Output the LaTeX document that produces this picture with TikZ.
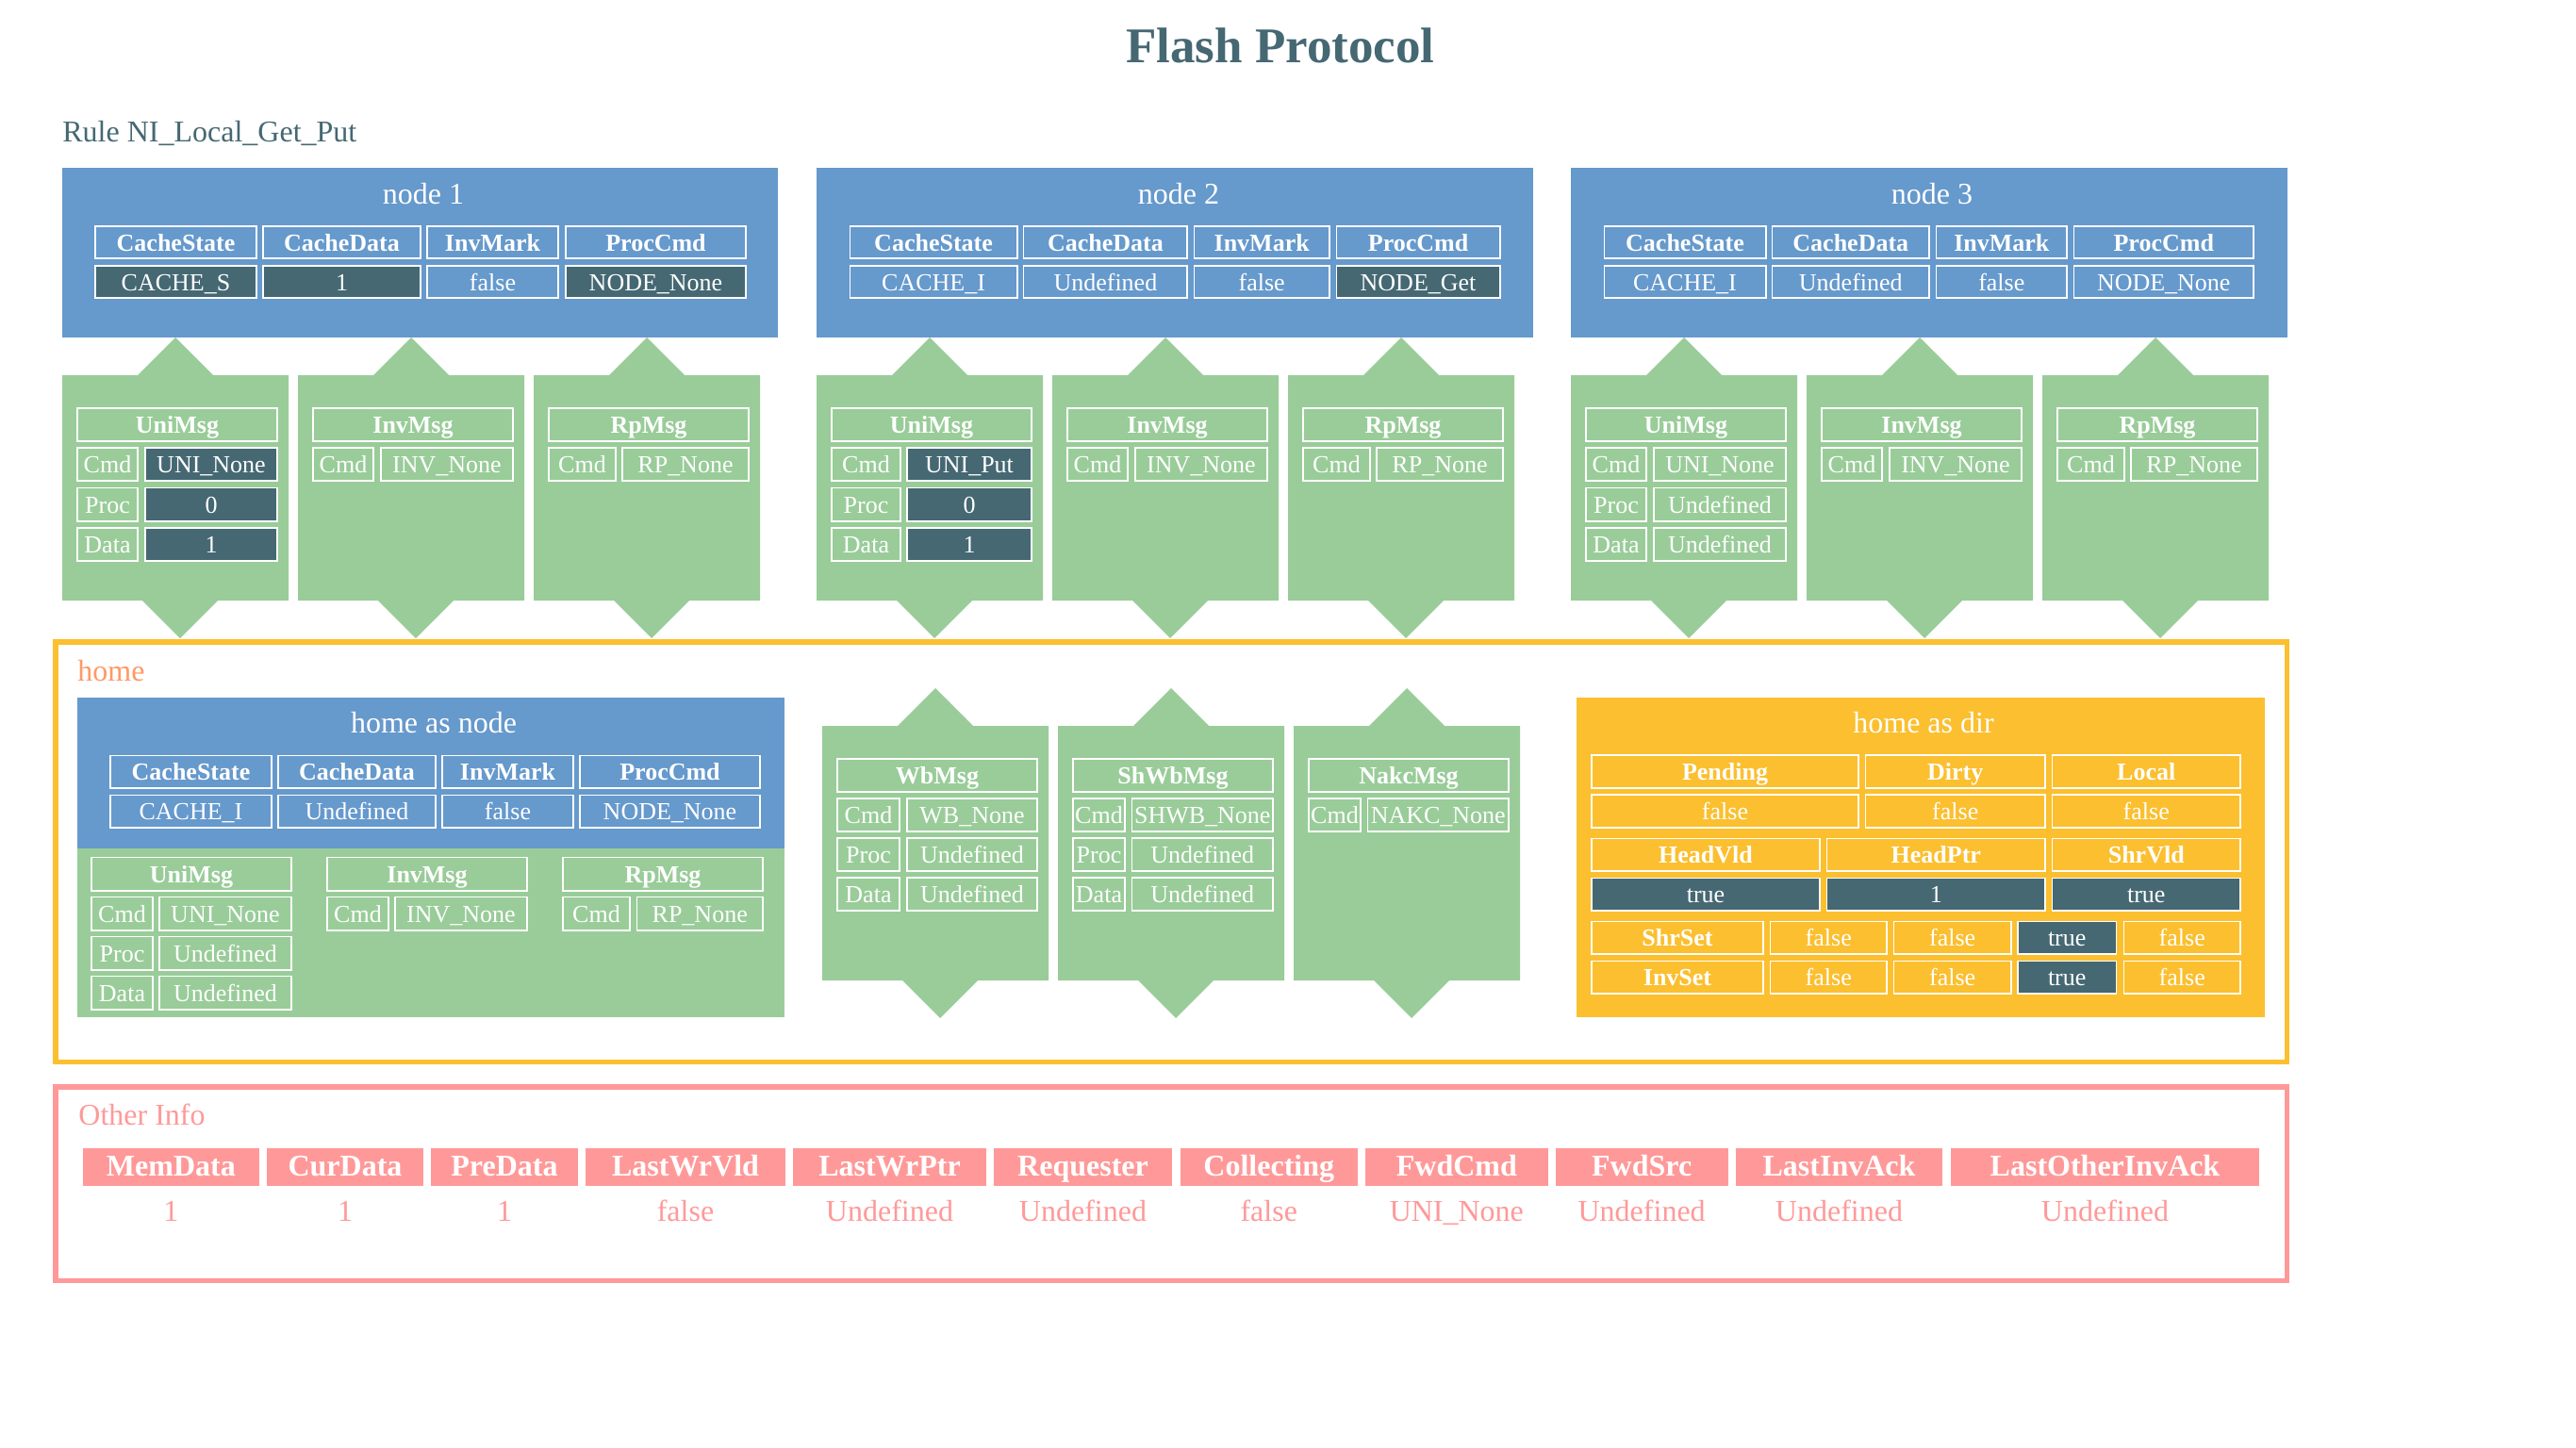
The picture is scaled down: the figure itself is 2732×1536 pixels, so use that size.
\documentclass[tikz,border=0pt]{standalone}
\usepackage{fontspec}
\setmainfont{Liberation Serif}
\definecolor{blu}{HTML}{6699CC}
\definecolor{grn}{HTML}{99CC99}
\definecolor{dk}{HTML}{456873}
\definecolor{ylw}{HTML}{FBBF2F}
\definecolor{pnk}{HTML}{FF9999}
\definecolor{org}{HTML}{FF9966}
\newcounter{cn}
\newcommand\ft{\fontsize{13}{15}\selectfont}
\newcommand\fb{\fontsize{13}{15}\selectfont\bfseries}
\newcommand\Ft{\fontsize{16}{19}\selectfont}
\newcommand\Fb{\fontsize{16}{19}\selectfont\bfseries}
\newcommand\cell[6]{\stepcounter{cn}%
 \draw[cellline,fill=#5] ({(#1)+0.8},{(#2)+0.8}) rectangle ({(#3)-0.8},{(#4)-0.8});%
 \node[celltxt] (c\thecn) at ({((#1)+(#3))/2},{(#2)+0.75*((#4)-(#2))}) {#6};}
\newcommand\mtitle[3]{\cell{#1+15}{#2}{#1+229}{#2+37}{grn}{\fb #3}}
\newcommand\mrow[7]{\cell{#1+15}{#2}{#1+#3}{#2+37}{grn}{\ft #5}%
 \cell{#1+#4}{#2}{#1+229}{#2+37}{#7}{\ft #6}}
\newcommand\msg[3]{\fill[grn] (#1,#2) -- ({#1+80},#2) -- ({#1+120},{#2-40}) -- ({#1+160},#2) -- ({#1+240},#2) -- ({#1+240},#3) -- ({#1+165},#3) -- ({#1+125},{#3+40}) -- ({#1+85},#3) -- (#1,#3) -- cycle;}
\newcommand\oi[4]{\stepcounter{cn}%
 \fill[pnk] (#1,1218) rectangle (#2,1258);%
 \node[celltxt,font=\Fb] (h\thecn) at ({((#1)+(#2))/2},1247) {#3};%
 \node[celltxt,font=\Ft,text=pnk] (v\thecn) at ({((#1)+(#2))/2},1295) {#4};}
\tikzset{
 cellline/.style={draw=white, line width=0.8pt},
 celltxt/.style={anchor=base, inner sep=0pt, text=white},
 lbl/.style={anchor=base, inner sep=0pt, text=white, font=\Ft},
}
\begin{document}
\begin{tikzpicture}[x=0.5pt,y=-0.5pt]
\useasboundingbox (0,0) rectangle (2732,1536);
\fill[white] (0,0) rectangle (2732,1536);
% title
\node[anchor=base, inner sep=0pt, text=dk, font=\fontsize{26.5}{30}\selectfont\bfseries] (title) at (1358,67) {Flash Protocol};
\node[anchor=base west, inner sep=0pt, text=dk, font=\Ft] (rule) at (66,150) {Rule NI\_Local\_Get\_Put};
% ---------- node 1
\fill[blu] (66,178) rectangle (825,358);
\node[lbl] (n1) at (449,216) {node 1};
\cell{100}{239}{273}{275}{blu}{\fb CacheState}
\cell{278}{239}{447}{275}{blu}{\fb CacheData}
\cell{452}{239}{593}{275}{blu}{\fb InvMark}
\cell{599}{239}{792}{275}{blu}{\fb ProcCmd}
\cell{100}{281}{273}{317}{dk}{\ft CACHE\_S}
\cell{278}{281}{447}{317}{dk}{\ft 1}
\cell{452}{281}{593}{317}{blu}{\ft false}
\cell{599}{281}{792}{317}{dk}{\ft NODE\_None}
% ---------- node 2
\fill[blu] (866,178) rectangle (1626,358);
\node[lbl] (n2) at (1250,216) {node 2};
\cell{900.5}{239}{1079.6}{275}{blu}{\fb CacheState}
\cell{1084.8}{239}{1260}{275}{blu}{\fb CacheData}
\cell{1265.6}{239}{1410.8}{275}{blu}{\fb InvMark}
\cell{1416.5}{239}{1591.6}{275}{blu}{\fb ProcCmd}
\cell{900.5}{281}{1079.6}{317}{blu}{\ft CACHE\_I}
\cell{1084.8}{281}{1260}{317}{blu}{\ft Undefined}
\cell{1265.6}{281}{1410.8}{317}{blu}{\ft false}
\cell{1416.5}{281}{1591.6}{317}{dk}{\ft NODE\_Get}
% ---------- node 3
\fill[blu] (1666,178) rectangle (2426,358);
\node[lbl] (n3) at (2049,216) {node 3};
\cell{1700.5}{239}{1873.5}{275}{blu}{\fb CacheState}
\cell{1878.6}{239}{2047}{275}{blu}{\fb CacheData}
\cell{2052.6}{239}{2193}{275}{blu}{\fb InvMark}
\cell{2198.5}{239}{2391}{275}{blu}{\fb ProcCmd}
\cell{1700.5}{281}{1873.5}{317}{blu}{\ft CACHE\_I}
\cell{1878.6}{281}{2047}{317}{blu}{\ft Undefined}
\cell{2052.6}{281}{2193}{317}{blu}{\ft false}
\cell{2198.5}{281}{2391}{317}{blu}{\ft NODE\_None}
% ---------- message boxes of nodes
\msg{66}{398}{637}\msg{316}{398}{637}\msg{566}{398}{637}
\msg{866}{398}{637}\msg{1116}{398}{637}\msg{1366}{398}{637}
\msg{1666}{398}{637}\msg{1916}{398}{637}\msg{2166}{398}{637}
% node 1 messages
\mtitle{66}{432}{UniMsg}
\mrow{66}{474}{81}{87}{Cmd}{UNI\_None}{dk}
\mrow{66}{516.5}{81}{87}{Proc}{0}{dk}
\mrow{66}{559}{81}{87}{Data}{1}{dk}
\mtitle{316}{432}{InvMsg}
\mrow{316}{474}{81}{87}{Cmd}{INV\_None}{grn}
\mtitle{566}{432}{RpMsg}
\mrow{566}{474}{88}{93}{Cmd}{RP\_None}{grn}
% node 2 messages
\mtitle{866}{432}{UniMsg}
\mrow{866}{474}{90}{95}{Cmd}{UNI\_Put}{dk}
\mrow{866}{516.5}{90}{95}{Proc}{0}{dk}
\mrow{866}{559}{90}{95}{Data}{1}{dk}
\mtitle{1116}{432}{InvMsg}
\mrow{1116}{474}{81}{87}{Cmd}{INV\_None}{grn}
\mtitle{1366}{432}{RpMsg}
\mrow{1366}{474}{88}{93}{Cmd}{RP\_None}{grn}
% node 3 messages
\mtitle{1666}{432}{UniMsg}
\mrow{1666}{474}{81}{87}{Cmd}{UNI\_None}{grn}
\mrow{1666}{516.5}{81}{87}{Proc}{Undefined}{grn}
\mrow{1666}{559}{81}{87}{Data}{Undefined}{grn}
\mtitle{1916}{432}{InvMsg}
\mrow{1916}{474}{81}{87}{Cmd}{INV\_None}{grn}
\mtitle{2166}{432}{RpMsg}
\mrow{2166}{474}{88}{93}{Cmd}{RP\_None}{grn}
% ---------- home
\draw[ylw, line width=2.75pt] (58.75,681) rectangle (2425.25,1126.25);
\node[anchor=base west, inner sep=0pt, text=org, font=\Ft] (home) at (82,722) {home};
% home as node
\fill[blu] (82,740) rectangle (831.6,900);
\fill[grn] (82,900) rectangle (831.6,1079);
\node[lbl] (han) at (460,777) {home as node};
\cell{116}{800.7}{289}{837}{blu}{\fb CacheState}
\cell{294}{800.7}{463}{837}{blu}{\fb CacheData}
\cell{468}{800.7}{609}{837}{blu}{\fb InvMark}
\cell{614}{800.7}{807}{837}{blu}{\fb ProcCmd}
\cell{116}{842.7}{289}{879}{blu}{\ft CACHE\_I}
\cell{294}{842.7}{463}{879}{blu}{\ft Undefined}
\cell{468}{842.7}{609}{879}{blu}{\ft false}
\cell{614}{842.7}{807}{879}{blu}{\ft NODE\_None}
\mtitle{81}{908.7}{UniMsg}
\mrow{81}{950.7}{82}{87}{Cmd}{UNI\_None}{grn}
\mrow{81}{992.7}{82}{87}{Proc}{Undefined}{grn}
\mrow{81}{1034.7}{82}{87}{Data}{Undefined}{grn}
\mtitle{331}{908.7}{InvMsg}
\mrow{331}{950.7}{82}{87}{Cmd}{INV\_None}{grn}
\mtitle{581}{908.7}{RpMsg}
\mrow{581}{950.7}{88}{93.5}{Cmd}{RP\_None}{grn}
% home channels
\msg{872}{770}{1040}\msg{1122}{770}{1040}\msg{1372}{770}{1040}
\mtitle{872}{804}{WbMsg}
\mrow{872}{846}{83}{89}{Cmd}{WB\_None}{grn}
\mrow{872}{888}{83}{89}{Proc}{Undefined}{grn}
\mrow{872}{930}{83}{89}{Data}{Undefined}{grn}
\mtitle{1122}{804}{ShWbMsg}
\mrow{1122}{846}{72}{77.5}{Cmd}{SHWB\_None}{grn}
\mrow{1122}{888}{72}{77.5}{Proc}{Undefined}{grn}
\mrow{1122}{930}{72}{77.5}{Data}{Undefined}{grn}
\mtitle{1372}{804}{NakcMsg}
\mrow{1372}{846}{72}{77.5}{Cmd}{NAKC\_None}{grn}
% home as dir
\fill[ylw] (1672,740) rectangle (2401.5,1079);
\node[lbl] (had) at (2040,777) {home as dir};
\cell{1687}{800}{1972}{837}{ylw}{\fb Pending}
\cell{1977.5}{800}{2170}{837}{ylw}{\fb Dirty}
\cell{2175.5}{800}{2377}{837}{ylw}{\fb Local}
\cell{1687}{842}{1972}{879}{ylw}{\ft false}
\cell{1977.5}{842}{2170}{879}{ylw}{\ft false}
\cell{2175.5}{842}{2377}{879}{ylw}{\ft false}
\cell{1687}{888.7}{1931}{925}{ylw}{\fb HeadVld}
\cell{1936.7}{888.7}{2170}{925}{ylw}{\fb HeadPtr}
\cell{2175.5}{888.7}{2377}{925}{ylw}{\fb ShrVld}
\cell{1687}{930.7}{1931}{967}{dk}{\ft true}
\cell{1936.7}{930.7}{2170}{967}{dk}{\ft 1}
\cell{2175.5}{930.7}{2377}{967}{dk}{\ft true}
\cell{1687}{976.7}{1871}{1013}{ylw}{\fb ShrSet}
\cell{1876.5}{976.7}{2002}{1013}{ylw}{\ft false}
\cell{2007.6}{976.7}{2133.7}{1013}{ylw}{\ft false}
\cell{2139}{976.7}{2245.4}{1013}{dk}{\ft true}
\cell{2251.5}{976.7}{2377}{1013}{ylw}{\ft false}
\cell{1687}{1018.5}{1871}{1055}{ylw}{\fb InvSet}
\cell{1876.5}{1018.5}{2002}{1055}{ylw}{\ft false}
\cell{2007.6}{1018.5}{2133.7}{1055}{ylw}{\ft false}
\cell{2139}{1018.5}{2245.4}{1055}{dk}{\ft true}
\cell{2251.5}{1018.5}{2377}{1055}{ylw}{\ft false}
% ---------- other info
\draw[pnk, line width=2.75pt] (58.75,1153) rectangle (2425.25,1358.5);
\node[anchor=base west, inner sep=0pt, text=pnk, font=\Ft] (oinfo) at (83,1193) {Other Info};
\oi{88}{274.7}{MemData}{1}
\oi{283}{449}{CurData}{1}
\oi{457}{613}{PreData}{1}
\oi{621}{833}{LastWrVld}{false}
\oi{841}{1046}{LastWrPtr}{Undefined}
\oi{1054}{1243}{Requester}{Undefined}
\oi{1251.5}{1440}{Collecting}{false}
\oi{1447.7}{1642}{FwdCmd}{UNI\_None}
\oi{1649.7}{1832.6}{FwdSrc}{Undefined}
\oi{1841}{2060}{LastInvAck}{Undefined}
\oi{2069}{2396}{LastOtherInvAck}{Undefined}
\end{tikzpicture}
\end{document}
